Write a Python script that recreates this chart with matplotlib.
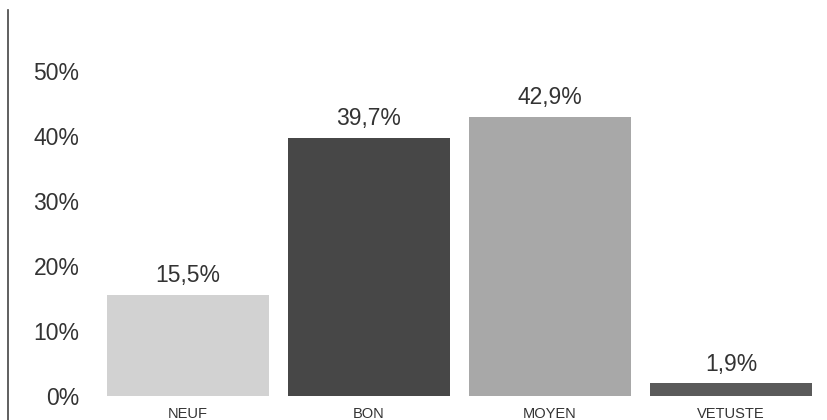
import matplotlib
matplotlib.use("Agg")
import matplotlib.pyplot as plt
from matplotlib.lines import Line2D

categories = ["NEUF", "BON", "MOYEN", "VETUSTE"]
values = [15.5, 39.7, 42.9, 1.9]
value_labels = ["15,5%", "39,7%", "42,9%", "1,9%"]
y_ticks = [0, 10, 20, 30, 40, 50]
y_tick_labels = ["0%", "10%", "20%", "30%", "40%", "50%"]
colors = ["#d2d2d2", "#474747", "#a8a8a8", "#5a5a5a"]

plt.rcParams["font.family"] = ["Liberation Sans", "DejaVu Sans"]

fig = plt.figure(figsize=(8.27, 4.2), dpi=100)
ax = fig.add_axes([97.5 / 827, 24.3 / 420, 724 / 827, 357.5 / 420])

x = range(len(categories))
bars = ax.bar(x, values, width=0.9, color=colors)
for b, lab in zip(bars, value_labels):
    ax.text(b.get_x() + b.get_width() / 2, b.get_height() + 1.2, lab,
            ha="center", va="bottom", fontsize=16.5, color="#333333")

ax.set_xlim(-0.5, 3.5)
ax.set_ylim(0, 55)
ax.set_xticks(list(x))
ax.set_xticklabels(categories, fontsize=10.5, color="#333333")
ax.set_yticks(y_ticks)
ax.set_yticklabels(y_tick_labels, fontsize=16.5, color="#333333")
ax.tick_params(axis="x", length=0, pad=8)
ax.tick_params(axis="y", length=0, pad=13)
for s in ax.spines.values():
    s.set_visible(False)

# left edge line of the scanned frame
fig.add_artist(Line2D([8 / 827, 8 / 827], [0, 1 - 10 / 420], transform=fig.transFigure,
                      color="#444444", linewidth=1.2))

fig.savefig("out.png", dpi=100)
